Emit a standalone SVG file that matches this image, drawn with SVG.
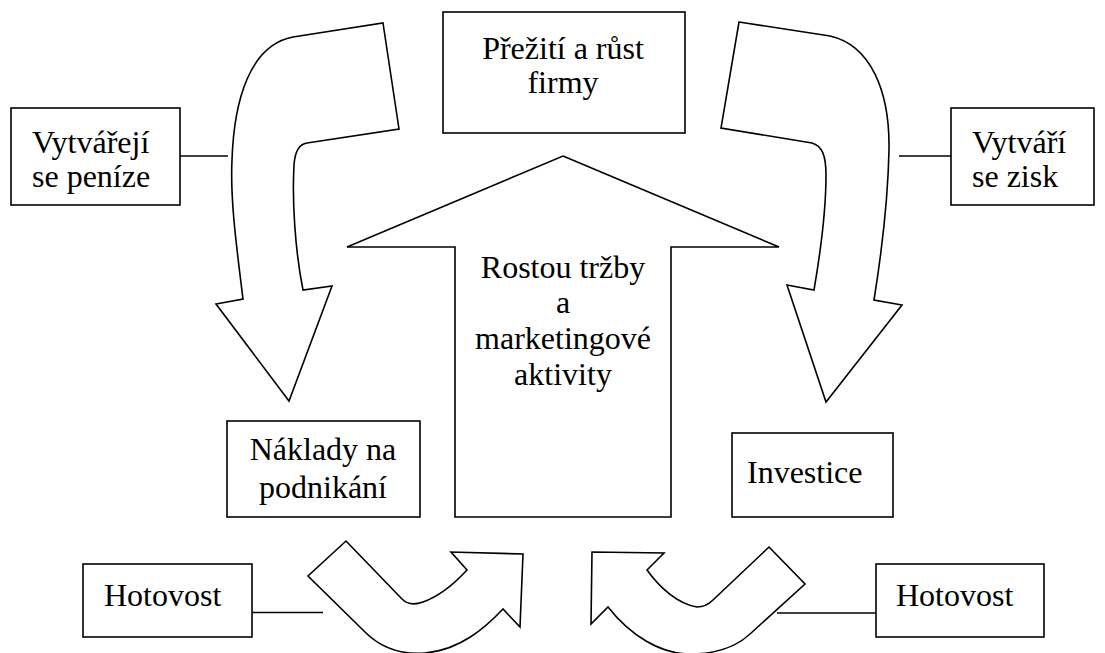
<svg xmlns="http://www.w3.org/2000/svg" width="1105" height="653" viewBox="0 0 1105 653">
<style>
.s{fill:#fff;stroke:#000;stroke-width:1.6;stroke-linejoin:miter}
.c{fill:none;stroke:#000;stroke-width:1.6}
text{font-family:"Liberation Serif","Times New Roman",serif;font-size:32px;fill:#000}
.m{text-anchor:middle}
</style>
<rect width="1105" height="653" fill="#fff"/>
<g id="connectors">
<line class="c" x1="180" y1="156" x2="228" y2="156"/>
<line class="c" x1="899" y1="156" x2="951" y2="156"/>
<line class="c" x1="252" y1="612.5" x2="323" y2="612.5"/>
<line class="c" x1="777" y1="613" x2="876" y2="613"/>
</g>
<g id="arrow-left-curved">
<path class="s" d="M383,23 L399,129 L307,143 C300,144 295,150 294,165 C292,200 295,250 303,290 L332,286 L289,401 L216,304 L243,299 C237,250 230,200 232,160 C234,100 250,45 293,37 Z"/>
</g>
<g id="arrow-right-curved">
<path class="s" d="M739,22 L830,36 C870,45 890,90 889,150 C888,200 882,250 874,300 L902,305 L826,402 L787,285 L814,290 C820,255 826,210 826,175 C826,155 822,146 812,143 L721,128 Z"/>
</g>
<g id="arrow-up">
<path class="s" d="M563,156 L779,247 L671,247 L671,517 L455,517 L455,247 L347,247 Z"/>
<text class="m" x="563" y="278">Rostou tržby</text>
<text class="m" x="563" y="313">a</text>
<text class="m" x="563" y="349">marketingové</text>
<text class="m" x="563" y="385">aktivity</text>
</g>
<g id="arrow-bottom-left">
<path class="s" d="M346,541 L402,599 C407,604 415,605 423,602 C440,596 455,583 467,570 L451,552 L523,554 L520,627 L503,609 C485,628 460,650 425,653 C400,655 380,647 365,632 L308,576 Z"/>
</g>
<g id="arrow-bottom-right">
<path class="s" d="M769,547 L805,584 L750,634 C735,648 715,654 690,654 C660,654 630,635 608,607 L591,624 L592,552 L664,553 L647,570 C660,588 678,604 697,607 C703,607 708,605 713,600 Z"/>
</g>
<g id="box-prezity">
<rect class="s" x="443" y="12" width="242" height="121"/>
<text class="m" x="563" y="59">Přežití a růst</text>
<text class="m" x="563" y="93">firmy</text>
</g>
<g id="box-vytvareji">
<rect class="s" x="11" y="108" width="169" height="97"/>
<text x="32" y="153">Vytvářejí</text>
<text x="32" y="187">se peníze</text>
</g>
<g id="box-vytvari">
<rect class="s" x="951" y="108" width="143" height="97"/>
<text x="972" y="153">Vytváří</text>
<text x="972" y="187">se zisk</text>
</g>
<g id="box-naklady">
<rect class="s" x="227" y="421" width="193" height="96"/>
<text class="m" x="323" y="460">Náklady na</text>
<text class="m" x="323" y="498">podnikání</text>
</g>
<g id="box-investice">
<rect class="s" x="732" y="433" width="161" height="84"/>
<text x="747" y="483">Investice</text>
</g>
<g id="box-hotovost-left">
<rect class="s" x="83" y="564" width="169" height="73"/>
<text x="104" y="606">Hotovost</text>
</g>
<g id="box-hotovost-right">
<rect class="s" x="876" y="564" width="168" height="73"/>
<text x="896" y="606">Hotovost</text>
</g>
</svg>
